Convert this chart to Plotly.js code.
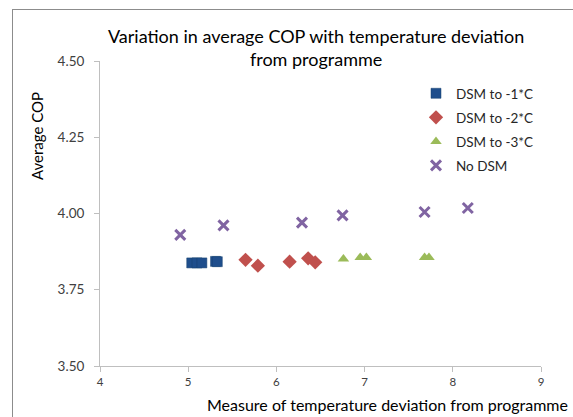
<!DOCTYPE html>
<html>
<head>
<meta charset="utf-8">
<script src="https://cdn.plot.ly/plotly-3.0.1.min.js"></script>
<style>
html,body{margin:0;padding:0;background:#fff;}
#chart{width:573px;height:417px;position:relative;}
#frame{position:absolute;left:12px;top:9px;width:600px;height:450px;border:1px solid #8c8c8c;box-sizing:border-box;pointer-events:none;}
</style>
</head>
<body>
<div id="chart"></div>
<div id="frame"></div>
<script>
// Data
const dsm1X = [5.04, 5.10, 5.155, 5.31, 5.33];
const dsm1Y = [3.838, 3.838, 3.838, 3.843, 3.842];

const dsm2X = [5.65, 5.79, 6.15, 6.36, 6.44];
const dsm2Y = [3.848, 3.829, 3.842, 3.853, 3.840];

const dsm3X = [6.76, 6.95, 7.02, 7.68, 7.73];
const dsm3Y = [3.851, 3.856, 3.856, 3.856, 3.856];

const noDsmX = [4.91, 5.40, 6.29, 6.75, 7.68, 8.17];
const noDsmY = [3.930, 3.961, 3.970, 3.994, 4.005, 4.018];

const seriesNames = ["DSM to -1*C", "DSM to -2*C", "DSM to -3*C", "No DSM"];
const xTicks = [4, 5, 6, 7, 8, 9];
const yTicks = [3.50, 3.75, 4.00, 4.25, 4.50];

const FONT = "Lato, 'Open Sans', sans-serif";

const traces = [
  {x: dsm1X, y: dsm1Y, name: seriesNames[0], legendgroup: "a", mode: "markers", type: "scatter",
   marker: {symbol: "square", size: 10, color: "#1F4E8C", line: {color: "#17406f", width: 0.5}}},
  {x: dsm2X, y: dsm2Y, name: seriesNames[1], legendgroup: "b", mode: "markers", type: "scatter",
   marker: {symbol: "diamond", size: 11, color: "#C0504D"}},
  {x: dsm3X, y: dsm3Y, name: seriesNames[2], legendgroup: "c", mode: "markers", type: "scatter",
   marker: {symbol: "triangle-up", size: 10, color: "#9BBB59"}},
  {x: noDsmX, y: noDsmY, name: seriesNames[3], legendgroup: "d", mode: "markers", type: "scatter",
   marker: {symbol: "x-thin", size: 10, color: "#8064A2", line: {color: "#8064A2", width: 3}}}
];

const layout = {
  width: 573, height: 417,
  margin: {l: 100, r: 32, t: 61, b: 51},
  paper_bgcolor: "rgba(0,0,0,0)",
  plot_bgcolor: "rgba(0,0,0,0)",
  font: {family: FONT, color: "#404040", size: 11},
  showlegend: true,
  legend: {x: (416 - 100) / 441, y: (366 - 78) / 305, xanchor: "left", yanchor: "top", bgcolor: "rgba(0,0,0,0)",
           font: {family: FONT, size: 13.5, color: "#262626"}, tracegroupgap: 3.5, itemwidth: 30},
  xaxis: {range: [4, 9], tickvals: xTicks, ticktext: xTicks.map(String), showgrid: false, zeroline: false,
          showline: true, linecolor: "#BFBFBF", linewidth: 1, ticks: "outside", ticklen: 5, tickcolor: "#BFBFBF",
          tickfont: {family: FONT, size: 11.5, color: "#404040"}, fixedrange: true},
  yaxis: {range: [3.5, 4.5], tickvals: yTicks, ticktext: yTicks.map(v => v.toFixed(2)), showgrid: false, zeroline: false,
          showline: true, linecolor: "#BFBFBF", linewidth: 1, ticks: "outside", ticklen: 5, tickcolor: "#BFBFBF",
          ticklabelstandoff: 7,
          tickfont: {family: FONT, size: 13.5, color: "#404040"}, fixedrange: true},
  annotations: [
    {text: "Variation in average COP with temperature deviation<br>from programme", xref: "paper", yref: "paper",
     x: (316 - 100) / 441, y: (366 - 23) / 305, xanchor: "center", yanchor: "top", showarrow: false,
     font: {family: FONT, size: 18, color: "#000"}},
    {text: "Measure of temperature deviation from programme", xref: "paper", yref: "paper",
     x: (570 - 100) / 441, y: (366 - 404) / 305, xanchor: "right", yanchor: "middle", showarrow: false,
     font: {family: FONT, size: 16, color: "#000"}},
    {text: "Average COP", xref: "paper", yref: "paper", textangle: -90,
     x: (37 - 100) / 441, y: (366 - 136) / 305, xanchor: "center", yanchor: "middle", showarrow: false,
     font: {family: FONT, size: 15, color: "#000"}}
  ]
};

Plotly.newPlot("chart", traces, layout, {displayModeBar: false, staticPlot: true});
</script>
</body>
</html>
